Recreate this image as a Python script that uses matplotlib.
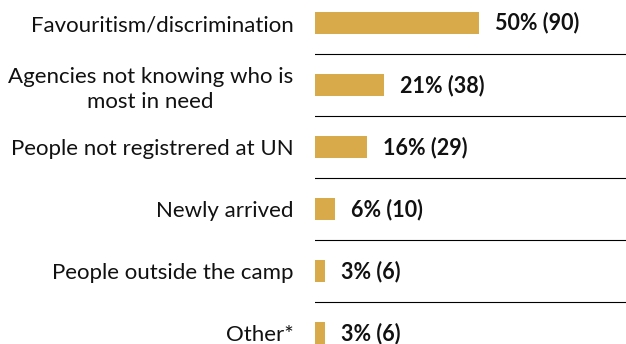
import matplotlib
matplotlib.use("Agg")
import matplotlib.pyplot as plt

# Chart data
categories = [
    "Favouritism/discrimination",
    "Agencies not knowing who is\nmost in need",
    "People not registrered at UN",
    "Newly arrived",
    "People outside the camp",
    "Other*",
]
percents = [50, 21, 16, 6, 3, 3]
counts = [90, 38, 29, 10, 6, 6]

BAR_COLOR = "#D8AA4A"
TEXT_COLOR = "#111111"

plt.rcParams['font.family'] = ['Lato', 'DejaVu Sans']

fig = plt.figure(figsize=(6.26, 3.44), dpi=100)
ax = fig.add_axes([0.503, 0, 0.497, 1])

rows = list(range(len(categories)))
ax.barh(rows, percents, height=0.34, color=BAR_COLOR)

# value labels
for i, (p, c) in enumerate(zip(percents, counts)):
    ax.text(p + 4.9, i, f"{p}% ({c})", va="center", ha="left",
            fontsize=15.5, fontweight="bold", color=TEXT_COLOR)

# thin separator lines between rows
for i in rows[:-1]:
    ax.axhline(i + 0.5, color="black", lw=0.8)

ax.set_xlim(0, 94.8)
ax.set_ylim(5.177, -0.371)
ax.set_yticks(rows)
ax.set_yticklabels(categories, fontsize=16, color=TEXT_COLOR,
                   multialignment="center", linespacing=1.3)
ax.tick_params(axis="y", length=0, pad=15.5)
ax.set_xticks([])
for s in ax.spines.values():
    s.set_visible(False)

fig.savefig("out.png", dpi=100)
